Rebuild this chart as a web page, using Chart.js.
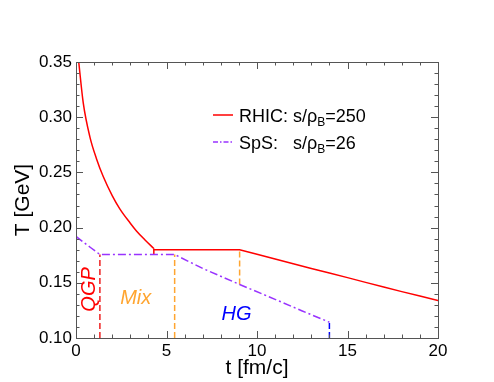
<!DOCTYPE html>
<html>
<head>
<meta charset="utf-8">
<script src="https://cdn.jsdelivr.net/npm/chart.js@4/dist/chart.umd.min.js"></script>
<style>
  html, body { margin: 0; padding: 0; background: #fff; }
  #wrap { width: 494px; height: 382px; }
</style>
</head>
<body>
<div id="wrap"><canvas id="c" width="494" height="382"></canvas></div>
<script>
// Temperature evolution T(t) - RHIC vs SpS

// RHIC, s/rhoB = 250 : QGP cooling curve
const rhicQgpTime = [0.15, 0.4, 0.77, 1.14, 1.51, 2.0, 2.42, 3.0, 3.34, 3.8, 4.3];
const rhicQgpTemp = [0.350, 0.313, 0.282, 0.262, 0.246, 0.229, 0.217, 0.204, 0.197, 0.189, 0.181];

// RHIC : mixed phase plateau + hadron gas
const rhicHgTime = [4.3, 9.04, 10, 11, 12, 13, 14, 15, 16, 17, 18, 19, 20];
const rhicHgTemp = [0.180, 0.180, 0.1758, 0.1715, 0.1672, 0.1630, 0.1588, 0.1547, 0.1504, 0.1462, 0.1420, 0.1380, 0.1340];

// SpS, s/rhoB = 26
const spsTime = [0, 0.4, 0.8, 1.32, 5.45, 7, 9.04, 11, 12.5, 14];
const spsTemp = [0.192, 0.187, 0.182, 0.1756, 0.1756, 0.163, 0.1485, 0.135, 0.1245, 0.1143];

// phase boundaries (vertical markers): [t, Tlow, Thigh]
const rhicQgpEnd = [4.3, 0.1756, 0.181];
const spsQgpEnd = [1.32, 0.10, 0.1756];
const spsMixEnd = [5.45, 0.10, 0.1756];
const rhicMixEnd = [9.04, 0.1485, 0.180];
const spsFreeze = [14, 0.10, 0.1143];

// phase labels: [text, t, T]
const phaseLabels = [
  ['QGP', 0.72, 0.144],
  ['Mix', 3.3, 0.1358],
  ['HG', 8.87, 0.1213]
];

const xTicks = [0, 5, 10, 15, 20];
const yTicks = [0.10, 0.15, 0.20, 0.25, 0.30, 0.35];

const RED = '#ff0000';
const PURPLE = '#9933ff';
const ORANGE = '#ffa530';
const BLUE = '#0000ff';
const FRAME = '#555555';
const FONT = "'Liberation Sans', Arial, Helvetica, sans-serif";

function toPoints(xs, ys) {
  return xs.map((x, i) => ({ x: x, y: ys[i] }));
}

function vline(v) {
  return [{ x: v[0], y: v[1] }, { x: v[0], y: v[2] }];
}

const datasets = [
  { data: toPoints(rhicQgpTime, rhicQgpTemp), borderColor: RED, borderWidth: 1.5, cubicInterpolationMode: 'monotone' },
  { data: toPoints(rhicHgTime, rhicHgTemp), borderColor: RED, borderWidth: 1.5 },
  { data: toPoints(spsTime, spsTemp), borderColor: PURPLE, borderWidth: 1.5, borderDash: [8, 3, 2, 3] },
  { data: vline(rhicQgpEnd), borderColor: RED, borderWidth: 1.5 },
  { data: vline(spsQgpEnd), borderColor: '#ee2020', borderWidth: 1.5, borderDash: [6, 3] },
  { data: vline(spsMixEnd), borderColor: ORANGE, borderWidth: 1.5, borderDash: [6, 3] },
  { data: vline(rhicMixEnd), borderColor: ORANGE, borderWidth: 1.5, borderDash: [6, 3] },
  { data: vline(spsFreeze), borderColor: BLUE, borderWidth: 1.5, borderDash: [6, 3] }
];
datasets.forEach(d => { d.pointRadius = 0; d.fill = false; d.tension = 0; });

// ROOT-like frame, inner ticks, legend and phase labels
const decor = {
  id: 'decor',
  afterDraw(chart) {
    const ctx = chart.ctx;
    const a = chart.chartArea;
    const xs = chart.scales.x, ys = chart.scales.y;
    ctx.save();
    ctx.strokeStyle = FRAME;
    ctx.lineWidth = 1;
    ctx.strokeRect(Math.round(a.left) + 0.5, Math.round(a.top) + 0.5, Math.round(a.right - a.left), Math.round(a.bottom - a.top));

    ctx.beginPath();
    for (let t = 0; t <= 20; t += 1) {
      const px = Math.round(xs.getPixelForValue(t)) + 0.5;
      const len = t % 5 === 0 ? 7 : 3.5;
      ctx.moveTo(px, a.bottom); ctx.lineTo(px, a.bottom - len);
      ctx.moveTo(px, a.top); ctx.lineTo(px, a.top + len);
    }
    for (let k = 10; k <= 35; k += 1) {
      const py = Math.round(ys.getPixelForValue(k / 100)) + 0.5;
      const len = k % 5 === 0 ? 7 : 3.5;
      ctx.moveTo(a.left, py); ctx.lineTo(a.left + len, py);
      ctx.moveTo(a.right, py); ctx.lineTo(a.right - len, py);
    }
    ctx.stroke();

    // legend
    const lx = 213, lw = 20;
    const rows = [
      { y: 115, color: RED, dash: [], pre: 'RHIC: s/\u03c1', post: '=250' },
      { y: 142, color: PURPLE, dash: [5, 2, 1.5, 2], pre: 'SpS:   s/\u03c1', post: '=26' }
    ];
    rows.forEach(r => {
      ctx.beginPath();
      ctx.strokeStyle = r.color;
      ctx.lineWidth = 1.5;
      ctx.setLineDash(r.dash);
      ctx.moveTo(lx, r.y); ctx.lineTo(lx + lw, r.y);
      ctx.stroke();
      ctx.setLineDash([]);
      ctx.fillStyle = '#000';
      ctx.textBaseline = 'alphabetic';
      ctx.textAlign = 'left';
      ctx.font = '18px ' + FONT;
      let x = 239;
      const base = r.y + 6.5;
      ctx.fillText(r.pre, x, base);
      x += ctx.measureText(r.pre).width;
      ctx.font = '12px ' + FONT;
      ctx.fillText('B', x, base + 4);
      x += ctx.measureText('B').width;
      ctx.font = '18px ' + FONT;
      ctx.fillText(r.post, x, base);
    });

    // phase labels
    const colors = [RED, ORANGE, BLUE];
    ctx.font = 'italic 20px ' + FONT;
    ctx.textAlign = 'center';
    ctx.textBaseline = 'middle';
    phaseLabels.forEach((l, i) => {
      const px = xs.getPixelForValue(l[1]);
      const py = ys.getPixelForValue(l[2]);
      ctx.fillStyle = colors[i];
      ctx.save();
      ctx.translate(px, py);
      if (i === 0) ctx.rotate(-Math.PI / 2);
      ctx.fillText(l[0], 0, 0);
      ctx.restore();
    });
    ctx.restore();
  }
};

new Chart(document.getElementById('c'), {
  type: 'line',
  data: { datasets: datasets },
  options: {
    responsive: false,
    animation: false,
    events: [],
    layout: { padding: { left: 0, top: 62, right: 56, bottom: 0 } },
    plugins: { legend: { display: false }, tooltip: { enabled: false } },
    scales: {
      x: {
        type: 'linear',
        min: 0, max: 20,
        afterBuildTicks: s => { s.ticks = xTicks.map(v => ({ value: v })); },
        afterFit: s => { s.height = 44; },
        grid: { display: false, drawTicks: false },
        border: { display: false },
        ticks: { color: '#000', font: { family: FONT, size: 17 }, padding: 3, maxRotation: 0, callback: v => String(v) },
        title: { display: true, text: 't [fm/c]', color: '#000', font: { family: FONT, size: 21 }, padding: { top: 0, bottom: 1.5 } }
      },
      y: {
        type: 'linear',
        min: 0.10, max: 0.35,
        afterBuildTicks: s => { s.ticks = yTicks.map(v => ({ value: v })); },
        afterFit: s => { s.width = 76; },
        grid: { display: false, drawTicks: false },
        border: { display: false },
        ticks: { color: '#000', font: { family: FONT, size: 17 }, padding: 4, callback: v => v.toFixed(2) },
        title: { display: true, text: 'T [GeV]', color: '#000', font: { family: FONT, size: 21 }, padding: { top: 10.5, bottom: 0 } }
      }
    }
  },
  plugins: [decor]
});
</script>
</body>
</html>
